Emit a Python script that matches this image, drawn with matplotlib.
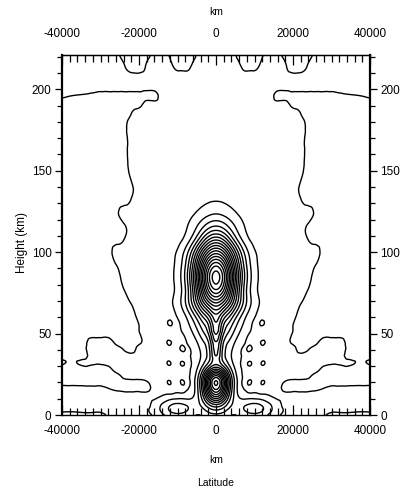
import numpy as np
import matplotlib
matplotlib.use("Agg")
import matplotlib.pyplot as plt
import matplotlib.tri as mtri

plt.rcParams['font.family'] = ['Liberation Sans', 'DejaVu Sans']
plt.rcParams['axes.unicode_minus'] = False

# Field on a half grid (x >= 0), mirrored about 0 km.
x_half_km = [0, 1500, 3000, 4500, 6000, 7500, 9000, 10500, 12000, 14000, 16000,
             18000, 20000, 22000, 24000, 26000, 28000, 30000, 32000, 35000, 40000]
height_km = [0, 4, 8, 12, 16, 20, 24, 28, 32, 36, 40, 45, 50, 56, 62, 69, 76, 84,
             92, 100, 108, 116, 124, 132, 140, 150, 160, 170, 178, 185, 191, 196,
             201, 206, 214, 222]
amp_half = [
    [3.76, 3.60, 3.20, 2.97, 3.09, 3.39, 3.64, 3.67, 3.41, 2.78, 2.16, 1.76, 1.58, 1.52, 1.50, 1.50, 1.20, 0.50, 0.50, 0.50, 0.50],
    [5.46, 5.07, 4.17, 3.63, 3.69, 4.10, 4.45, 4.50, 4.14, 3.27, 2.41, 1.86, 1.61, 1.53, 1.50, 1.50, 1.50, 1.50, 1.50, 1.50, 1.50],
    [8.25, 7.35, 5.41, 3.92, 3.42, 3.48, 3.66, 3.67, 3.41, 2.78, 2.16, 1.76, 1.58, 1.52, 1.50, 1.50, 1.50, 1.50, 1.50, 1.50, 1.50],
    [11.61, 10.07, 6.82, 4.14, 2.85, 2.45, 2.39, 2.34, 2.22, 1.98, 1.75, 1.60, 1.53, 1.50, 1.50, 1.50, 1.50, 1.50, 1.50, 1.50, 1.50],
    [14.18, 12.13, 7.87, 4.35, 2.57, 1.94, 1.75, 1.69, 1.65, 1.59, 1.55, 0.50, 0.50, 0.50, 0.60, 0.80, 1.10, 1.50, 1.50, 1.50, 1.50],
    [15.20, 12.97, 8.32, 4.47, 2.53, 1.82, 2.07, 1.53, 2.07, 1.50, 1.50, 0.80, 0.50, 0.50, 0.50, 0.50, 0.50, 0.50, 0.50, 0.50, 0.50],
    [13.17, 11.31, 7.40, 4.13, 2.45, 1.80, 1.60, 1.53, 1.51, 1.50, 1.50, 1.50, 1.50, 1.50, 1.30, 0.50, 0.50, 0.50, 0.50, 0.50, 0.50],
    [9.15, 7.93, 5.50, 3.43, 2.28, 1.79, 1.60, 1.53, 1.51, 1.50, 1.50, 1.50, 1.50, 1.50, 1.50, 1.50, 0.50, 0.50, 0.50, 0.50, 0.50],
    [6.71, 5.60, 4.08, 2.92, 2.18, 1.79, 2.07, 1.54, 2.07, 1.50, 1.50, 1.50, 1.50, 1.50, 1.50, 1.50, 1.50, 1.20, 1.20, 1.20, 1.20],
    [6.91, 5.09, 3.56, 2.75, 2.17, 1.81, 1.63, 1.55, 1.52, 1.50, 1.50, 1.50, 1.50, 1.50, 1.50, 1.50, 1.50, 1.50, 1.50, 0.50, 0.50],
    [7.40, 5.27, 3.62, 2.86, 2.27, 1.88, 2.07, 1.57, 1.53, 1.50, 1.50, 1.50, 1.50, 0.50, 1.00, 1.50, 1.50, 1.50, 1.50, 0.50, 0.50],
    [7.98, 5.82, 4.11, 3.25, 2.54, 2.04, 1.76, 1.61, 2.07, 1.51, 1.50, 1.50, 0.73, 0.50, 0.50, 0.70, 1.50, 1.50, 1.50, 0.50, 0.50],
    [9.11, 6.89, 5.01, 3.93, 2.99, 2.31, 1.90, 1.68, 1.57, 1.52, 1.50, 1.50, 0.91, 0.50, 0.50, 0.50, 0.50, 0.50, 0.50, 0.50, 0.50],
    [9.83, 7.95, 6.13, 4.86, 3.67, 2.76, 2.15, 1.81, 2.07, 1.53, 1.51, 1.50, 1.03, 0.50, 0.50, 0.50, 0.50, 0.50, 0.50, 0.50, 0.50],
    [11.03, 9.79, 8.11, 6.42, 4.77, 3.44, 2.53, 1.99, 1.71, 1.56, 1.51, 1.50, 1.50, 0.50, 0.50, 0.50, 0.50, 0.50, 0.50, 0.50, 0.50],
    [14.10, 13.23, 11.30, 8.86, 6.45, 4.46, 3.08, 2.26, 1.82, 1.59, 1.52, 1.50, 1.50, 1.09, 0.50, 0.50, 0.50, 0.50, 0.50, 0.50, 0.50],
    [17.61, 16.56, 13.82, 10.33, 7.03, 4.53, 2.95, 2.11, 1.72, 1.55, 1.51, 1.50, 1.50, 1.50, 0.88, 0.50, 0.50, 0.50, 0.50, 0.50, 0.50],
    [19.50, 18.33, 15.27, 11.36, 7.67, 4.88, 3.12, 2.18, 1.75, 1.55, 1.51, 1.50, 1.50, 1.50, 1.33, 0.50, 0.50, 0.50, 0.50, 0.50, 0.50],
    [17.75, 16.69, 13.93, 10.41, 7.07, 4.56, 2.96, 2.11, 1.72, 1.55, 1.51, 1.50, 1.50, 1.50, 1.50, 0.94, 0.50, 0.50, 0.50, 0.50, 0.50],
    [13.45, 12.67, 10.64, 8.05, 5.60, 3.75, 2.58, 1.95, 1.66, 1.53, 1.51, 1.50, 1.50, 1.50, 1.50, 1.50, 0.50, 0.50, 0.50, 0.50, 0.50],
    [8.66, 8.11, 6.70, 4.98, 3.49, 2.47, 1.90, 1.64, 1.54, 1.51, 1.50, 1.50, 1.50, 1.50, 0.94, 0.50, 0.50, 0.50, 0.50, 0.50, 0.50],
    [4.99, 4.72, 4.03, 3.20, 2.47, 1.97, 1.70, 1.57, 1.52, 1.50, 1.50, 1.50, 1.50, 1.50, 0.79, 0.50, 0.50, 0.50, 0.50, 0.50, 0.50],
    [2.89, 2.78, 2.51, 2.18, 1.89, 1.69, 1.58, 1.53, 1.51, 1.50, 1.50, 1.50, 1.50, 1.50, 1.50, 0.73, 0.50, 0.50, 0.50, 0.50, 0.50],
    [1.95, 1.92, 1.83, 1.72, 1.63, 1.56, 1.53, 1.51, 1.50, 1.50, 1.50, 1.50, 1.50, 1.06, 0.50, 0.50, 0.50, 0.50, 0.50, 0.50, 0.50],
    [1.62, 1.61, 1.59, 1.56, 1.53, 1.52, 1.50, 1.50, 1.50, 1.50, 1.50, 1.50, 1.50, 0.83, 0.50, 0.50, 0.50, 0.50, 0.50, 0.50, 0.50],
    [1.50, 1.50, 1.50, 1.50, 1.50, 1.50, 1.50, 1.50, 1.50, 1.50, 1.50, 1.50, 1.50, 1.33, 0.50, 0.50, 0.50, 0.50, 0.50, 0.50, 0.50],
    [1.50, 1.50, 1.50, 1.50, 1.50, 1.50, 1.50, 1.50, 1.50, 1.50, 1.50, 1.50, 1.50, 1.50, 0.50, 0.50, 0.50, 0.50, 0.50, 0.50, 0.50],
    [1.50, 1.50, 1.50, 1.50, 1.50, 1.50, 1.50, 1.50, 1.50, 1.50, 1.50, 1.50, 1.50, 1.50, 0.50, 0.50, 0.50, 0.50, 0.50, 0.50, 0.50],
    [1.50, 1.50, 1.50, 1.50, 1.50, 1.50, 1.50, 1.50, 1.50, 1.50, 1.50, 1.50, 1.50, 1.50, 0.60, 0.50, 0.50, 0.50, 0.50, 0.50, 0.50],
    [1.50, 1.50, 1.50, 1.50, 1.50, 1.50, 1.50, 1.50, 1.50, 1.50, 1.50, 1.50, 1.50, 1.00, 0.50, 0.50, 0.50, 0.50, 0.50, 0.50, 0.50],
    [1.50, 1.50, 1.50, 1.50, 1.50, 1.50, 1.50, 1.50, 1.50, 1.50, 1.50, 1.50, 0.50, 0.50, 0.50, 0.50, 0.50, 0.50, 0.50, 0.50, 0.50],
    [1.50, 1.50, 1.50, 1.50, 1.50, 1.50, 1.50, 1.50, 1.50, 1.50, 0.50, 0.50, 0.50, 0.50, 0.50, 0.50, 0.50, 0.50, 0.70, 0.90, 1.20],
    [1.50, 1.50, 1.50, 1.50, 1.50, 1.50, 1.50, 1.50, 1.50, 1.50, 1.50, 1.50, 1.50, 1.50, 1.50, 1.50, 1.50, 1.50, 1.50, 1.50, 1.50],
    [1.50, 1.50, 1.50, 1.50, 1.50, 1.50, 1.50, 1.50, 1.50, 1.50, 1.50, 1.50, 1.50, 1.50, 1.50, 1.50, 1.50, 1.50, 1.50, 1.50, 1.50],
    [1.50, 1.50, 1.50, 1.50, 1.20, 0.70, 0.70, 0.80, 1.30, 1.50, 1.50, 1.10, 0.70, 0.70, 1.10, 1.50, 1.50, 1.50, 1.50, 1.50, 1.50],
    [1.50, 1.50, 1.50, 1.50, 0.30, 0.30, 0.30, 0.30, 0.80, 1.50, 1.50, 0.30, 0.30, 0.30, 0.30, 1.50, 1.50, 1.50, 1.50, 1.50, 1.50],
]

contour_levels = np.arange(1, 20)
x_ticks = [-40000, -20000, 0, 20000, 40000]
y_ticks = [0, 50, 100, 150, 200]


def build_triangulation(x, z):
    ny, nx = len(z), len(x)
    X, Z = np.meshgrid(x, z)
    idx = np.arange(ny * nx).reshape(ny, nx)
    a = idx[:-1, :-1]
    b = idx[:-1, 1:]
    c = idx[1:, 1:]
    d = idx[1:, :-1]
    # mirror the cell diagonal on the negative side so the field stays symmetric
    left = (X[:-1, :-1] + X[:-1, 1:]) < 0
    t1 = np.where(left[..., None], np.stack([a, b, d], -1), np.stack([a, b, c], -1))
    t2 = np.where(left[..., None], np.stack([b, c, d], -1), np.stack([a, c, d], -1))
    tris = np.concatenate([t1.reshape(-1, 3), t2.reshape(-1, 3)])
    # scale x so cells are roughly square for the cubic refinement
    return mtri.Triangulation(X.ravel() / 420.0, Z.ravel(), tris)


xh = np.array(x_half_km, dtype=float)
x_full = np.concatenate([-xh[:0:-1], xh])
amp = np.array(amp_half)
amp_full = np.hstack([amp[:, :0:-1], amp])

tri = build_triangulation(x_full, np.array(height_km, dtype=float))
refiner = mtri.UniformTriRefiner(tri)
tri_fine, amp_fine = refiner.refine_field(amp_full.ravel(), subdiv=3)
tri_plot = mtri.Triangulation(tri_fine.x * 420.0, tri_fine.y, tri_fine.triangles)

fig = plt.figure(figsize=(4.0, 4.92), dpi=100)
ax = fig.add_axes([0.155, 0.1565, 0.77, 0.7317])

ax.tricontour(tri_plot, amp_fine, levels=contour_levels, colors='black',
              linewidths=1.0)

ax.set_xlim(-40000, 40000)
ax.set_ylim(0, 221)

ax.set_xticks(x_ticks)
ax.set_xticks(np.arange(-40000, 40001, 2000), minor=True)
ax.set_yticks(y_ticks)
ax.set_yticks(np.arange(0, 221, 10), minor=True)

ax.tick_params(axis='x', which='both', direction='in', top=True, bottom=True,
               labelbottom=True, labeltop=False, width=0.9)
ax.tick_params(axis='x', which='major', length=7, pad=7, labelsize=8.5)
ax.tick_params(axis='x', which='minor', length=5)
ax.tick_params(axis='y', which='both', direction='out', left=True, right=True,
               labelleft=True, labelright=True, width=0.9)
ax.tick_params(axis='y', which='major', length=5, pad=2.5, labelsize=8.5)
ax.tick_params(axis='y', which='minor', length=3.5)

top = ax.secondary_xaxis('top')
top.set_xticks(x_ticks)
top.tick_params(length=0, pad=11, labelsize=8.5)

for s in ax.spines.values():
    s.set_linewidth(1.0)
ax.spines['left'].set_linewidth(1.6)
ax.spines['right'].set_linewidth(1.6)

ax.set_ylabel('Height (km)', fontsize=8.5)
ax.yaxis.set_label_coords(-0.112, 0.478)

fig.text(0.54, 0.9756, 'km', ha='center', va='center', fontsize=7.5)
fig.text(0.54, 0.065, 'km', ha='center', va='center', fontsize=7.5)
fig.text(0.54, 0.018, 'Latitude', ha='center', va='center', fontsize=7.5)

fig.savefig('out.png', dpi=100)
